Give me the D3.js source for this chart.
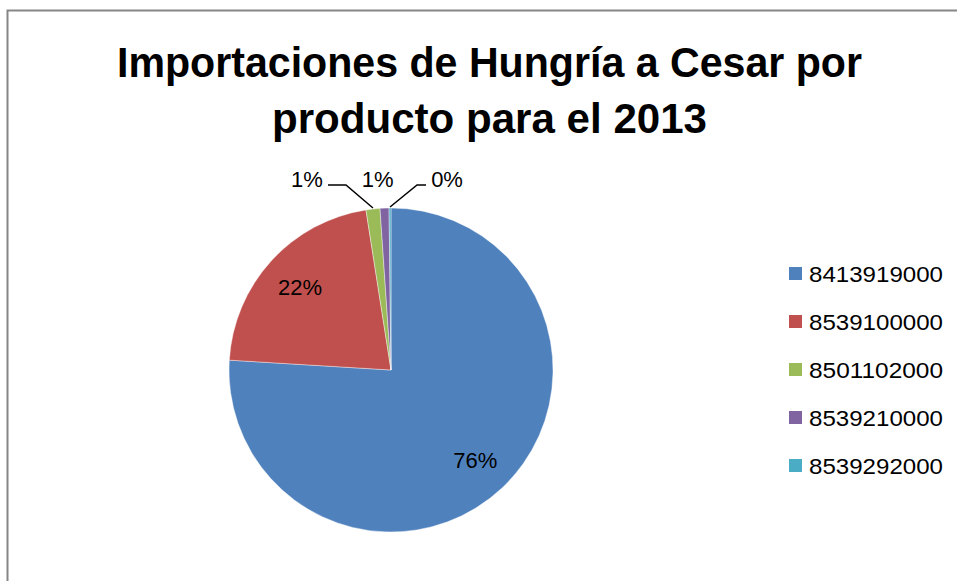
<!DOCTYPE html>
<html><head><meta charset="utf-8">
<script src="https://cdn.jsdelivr.net/npm/d3@7"></script>
<style>html,body{margin:0;padding:0;background:#fff;}svg{display:block;}</style>
</head><body>
<svg id="chart" width="957" height="581"></svg>
<script>
const titleLines = ["Importaciones de Hungría a Cesar por", "producto para el 2013"];
const categories = ["8413919000", "8539100000", "8501102000", "8539210000", "8539292000"];
const values = [75.97, 21.56, 1.39, 0.89, 0.19];
const percentLabels = ["76%", "22%", "1%", "1%", "0%"];
const colors = ["#4F81BD", "#C0504D", "#9BBB59", "#8064A2", "#4BACC6"];

const svg = d3.select("#chart");
const W = 957, H = 581;
const font = "'Liberation Sans', Arial, sans-serif";

// chart border
svg.append("path").attr("d", `M7.5,${H} V10.5 H${W}`)
  .attr("fill", "none").attr("stroke", "#868686").attr("stroke-width", 2);

// title
const titleWidths = [745, 435];
svg.append("g").selectAll("text").data(titleLines).join("text")
  .attr("x", 489.5).attr("y", (d, i) => 77 + i * 56)
  .attr("text-anchor", "middle")
  .attr("font-family", font).attr("font-weight", "bold").attr("font-size", 42)
  .attr("textLength", (d, i) => titleWidths[i]).attr("lengthAdjust", "spacingAndGlyphs")
  .attr("fill", "#000").text(d => d);

// pie
const cx = 391, cy = 370, r = 162;
const pie = d3.pie().sort(null).value(d => d);
const arcs = pie(values);
const arc = d3.arc().innerRadius(0).outerRadius(r);
const labelArc = d3.arc().innerRadius(r * 0.76).outerRadius(r * 0.76);
const g = svg.append("g").attr("transform", `translate(${cx},${cy})`);
g.selectAll("path").data(arcs).join("path")
  .attr("d", arc).attr("fill", (d, i) => colors[i])
  .attr("stroke", "#fff").attr("stroke-width", 0.4);

// inside labels for large slices
const big = arcs.map((d, i) => ({d, i})).filter(o => o.d.endAngle - o.d.startAngle > 0.3);
g.selectAll("text.in").data(big).join("text").attr("class", "in")
  .attr("x", o => labelArc.centroid(o.d)[0]).attr("y", o => labelArc.centroid(o.d)[1] + 8)
  .attr("text-anchor", "middle").attr("font-family", font).attr("font-size", 22)
  .attr("fill", "#000").text(o => percentLabels[o.i]);

// outside labels for small slices
const small = arcs.map((d, i) => ({d, i})).filter(o => o.d.endAngle - o.d.startAngle <= 0.3);
const offsets = [-66, -7, 57];     // label centre offset from slice anchor (layout)
const leaderDir = [-1, 0, 1];      // leader line direction
const labelY = -185;
small.forEach((o, k) => {
  const mid = (o.d.startAngle + o.d.endAngle) / 2;
  const ax = r * Math.sin(mid), ay = -r * Math.cos(mid);
  const lx = ax + offsets[k];
  g.append("text").attr("x", lx).attr("y", labelY + 2)
    .attr("text-anchor", "middle").attr("font-family", font).attr("font-size", 22)
    .attr("fill", "#000").text(percentLabels[o.i]);
  if (leaderDir[k] !== 0) {
    const s = leaderDir[k];
    const ky = labelY;
    const kx = ax + s * 27;
    const ex = lx - s * 21;
    g.append("path").attr("d", `M${ax},${ay - 1} L${kx},${ky} L${ex},${ky}`)
      .attr("fill", "none").attr("stroke", "#000").attr("stroke-width", 1.5);
  }
});

// legend
const lg = svg.append("g");
const rows = lg.selectAll("g").data(categories).join("g")
  .attr("transform", (d, i) => `translate(789,${274 + i * 48})`);
rows.append("rect").attr("x", 0).attr("y", -7).attr("width", 13).attr("height", 13)
  .attr("fill", (d, i) => colors[i]);
rows.append("text").attr("x", 20).attr("y", 8)
  .attr("font-family", font).attr("font-size", 22)
  .attr("textLength", 134).attr("lengthAdjust", "spacingAndGlyphs")
  .attr("fill", "#000").text(d => d);
</script>
</body></html>
